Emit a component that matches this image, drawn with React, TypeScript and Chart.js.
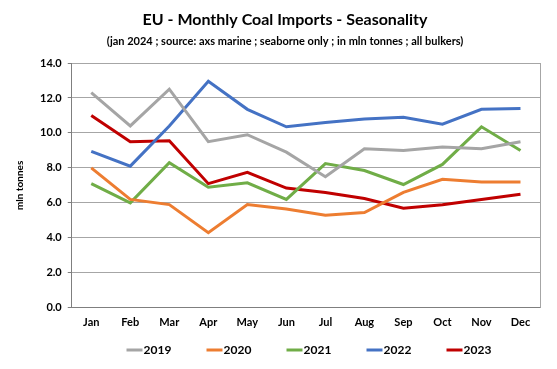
import React, { useEffect, useRef } from "react";
import { Chart, registerables } from "chart.js";

Chart.register(...registerables);

const months = ["Jan", "Feb", "Mar", "Apr", "May", "Jun", "Jul", "Aug", "Sep", "Oct", "Nov", "Dec"];
const y2019 = [12.3, 10.4, 12.5, 9.5, 9.9, 8.9, 7.5, 9.1, 9.0, 9.2, 9.1, 9.5];
const y2020 = [8.0, 6.2, 5.9, 4.3, 5.9, 5.65, 5.3, 5.45, 6.6, 7.35, 7.2, 7.2];
const y2021 = [7.1, 6.0, 8.3, 6.9, 7.15, 6.2, 8.25, 7.85, 7.05, 8.2, 10.35, 9.0];
const y2022 = [8.95, 8.1, 10.4, 12.95, 11.35, 10.35, 10.6, 10.8, 10.9, 10.5, 11.35, 11.4];
const y2023 = [11.0, 9.5, 9.55, 7.1, 7.75, 6.85, 6.6, 6.25, 5.7, 5.9, 6.2, 6.5];

const TITLE = "EU - Monthly Coal Imports - Seasonality";
const SUBTITLE = "(jan 2024 ; source: axs marine ; seaborne only ; in mln tonnes ; all bulkers)";

const FONT = "Lato, 'Open Sans', sans-serif";

const rightBorder = {
  id: "rightBorder",
  afterDraw(chart: any) {
    const { ctx, chartArea } = chart;
    ctx.save();
    ctx.strokeStyle = "#a6a6a6";
    ctx.lineWidth = 1;
    ctx.beginPath();
    ctx.moveTo(chartArea.right + 0.5, chartArea.top);
    ctx.lineTo(chartArea.right + 0.5, chartArea.bottom);
    ctx.stroke();
    ctx.restore();
  },
};

const titles = {
  id: "titles",
  afterDraw(chart: any) {
    const { ctx } = chart;
    const cx = 285;
    ctx.save();
    ctx.fillStyle = "#000";
    ctx.textAlign = "center";
    ctx.textBaseline = "middle";
    ctx.font = `bold 16px ${FONT}`;
    ctx.fillText(TITLE, cx, 20);
    ctx.font = `bold 11px ${FONT}`;
    ctx.fillText(SUBTITLE, cx, 41);
    ctx.restore();
  },
};

const customLegend = {
  id: "customLegend",
  afterDraw(chart: any) {
    const { ctx } = chart;
    const ds = chart.data.datasets;
    const spacing = 80;
    const lineW = 16;
    const y = 350;
    ctx.save();
    ctx.font = `bold 12px ${FONT}`;
    ctx.textBaseline = "middle";
    ctx.textAlign = "left";
    const startX = chart.width / 2 - ((ds.length - 1) * spacing) / 2 + 8;
    ds.forEach((d: any, i: number) => {
      const x = startX + i * spacing;
      ctx.strokeStyle = d.borderColor;
      ctx.lineWidth = 3;
      ctx.beginPath();
      ctx.moveTo(x, y);
      ctx.lineTo(x + lineW, y);
      ctx.stroke();
      ctx.fillStyle = "#000";
      ctx.fillText(d.label, x + lineW + 1, y);
    });
    ctx.restore();
  },
};

export default function App() {
  const ref = useRef<HTMLCanvasElement>(null);
  useEffect(() => {
    const mk = (label: string, data: number[], color: string) => ({
      label,
      data,
      borderColor: color,
      backgroundColor: color,
      borderWidth: 3,
      pointRadius: 0,
      tension: 0,
    });
    const chart = new Chart(ref.current!, {
      type: "line",
      data: {
        labels: months,
        datasets: [
          mk("2019", y2019, "#a5a5a5"),
          mk("2020", y2020, "#ed7d31"),
          mk("2021", y2021, "#70ad47"),
          mk("2022", y2022, "#4472c4"),
          mk("2023", y2023, "#c00000"),
        ],
      },
      options: {
        animation: false,
        responsive: false,
        maintainAspectRatio: false,
        layout: { padding: { left: 10, right: 17, top: 63, bottom: 32 } },
        plugins: {
          legend: { display: false },
          tooltip: { enabled: false },
        },
        scales: {
          x: {
            offset: true,
            grid: { display: false, drawTicks: false },
            border: { color: "#7f7f7f", width: 1 },
            ticks: { color: "#000", font: { family: FONT, size: 11, weight: "bold" }, padding: 8 },
          },
          y: {
            min: 0,
            max: 14,
            ticks: {
              stepSize: 2,
              color: "#000",
              font: { family: FONT, size: 11, weight: "bold" },
              callback: (v: any) => Number(v).toFixed(1),
              padding: 6,
            },
            grid: { color: "#a6a6a6", lineWidth: 1, tickLength: 4, tickColor: "#7f7f7f" },
            border: { color: "#7f7f7f", width: 1 },
            title: {
              display: true,
              text: "mln tonnes",
              color: "#000",
              font: { family: FONT, size: 10, weight: "bold" },
              padding: { bottom: 8 },
            },
          },
        },
      },
      plugins: [rightBorder, customLegend, titles],
    });
    return () => chart.destroy();
  }, []);
  return (
    <div style={{ position: "fixed", left: 0, top: 0, width: 557, height: 369, background: "#fff" }}>
      <canvas ref={ref} width={557} height={369} style={{ width: 557, height: 369 }} />
    </div>
  );
}
